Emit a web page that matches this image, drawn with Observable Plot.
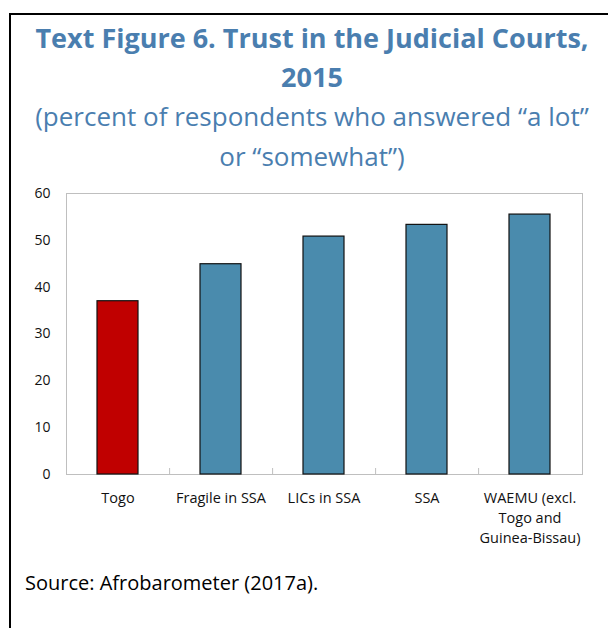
<!DOCTYPE html>
<html>
<head>
<meta charset="utf-8">
<script src="https://cdn.jsdelivr.net/npm/d3@7"></script>
<script src="https://cdn.jsdelivr.net/npm/@observablehq/plot@0.6"></script>
<style>
  html, body { margin: 0; padding: 0; background: #fff; overflow: hidden; width: 608px; height: 628px; }
  body { position: relative; font-family: "Open Sans", sans-serif; }
  .border { position: absolute; left: 9px; top: 13px; width: 1000px; height: 1000px;
            border-top: 2px solid #000; border-left: 2px solid #000; box-sizing: border-box; }
  .title { position: absolute; left: 0; width: 624px; top: 17.5px; text-align: center;
           font: bold 27px/39.5px "Open Sans", sans-serif; color: #4a7eaf; white-space: nowrap; }
  .subtitle { position: absolute; left: 0; width: 624px; top: 95.7px; text-align: center;
              font: 26px/40.5px "Open Sans", sans-serif; color: #4a7eaf; white-space: nowrap; }
  #chart { position: absolute; left: 0; top: 177px; }
  .caption { position: absolute; left: 25px; top: 571px; font: 20px/24px "Open Sans", sans-serif;
             color: #000; white-space: nowrap; }
</style>
</head>
<body>
<div class="border"></div>
<div class="title">Text Figure 6. Trust in the Judicial Courts,<br>2015</div>
<div class="subtitle">(percent of respondents who answered “a lot”<br>or “somewhat”)</div>
<div id="chart"></div>
<div class="caption">Source: Afrobarometer (2017a).</div>
<script>
// ---- data ----
const categories = ["Togo", "Fragile in SSA", "LICs in SSA", "SSA", "WAEMU (excl.\nTogo and\nGuinea-Bissau)"];
const values = [37.0, 44.9, 50.8, 53.3, 55.5];
const yTicks = [0, 10, 20, 30, 40, 50, 60];
const highlight = "Togo";

// ---- styles ----
const RED = "#c00000";
const BLUE = "#4a8bad";
const GRID = "#bfbfbf";

const data = categories.map((c, i) => ({cat: c, value: values[i]}));

const W = 608, H = 372, ML = 66, MR = 26, MT = 16, MB = 75;
const step = (W - ML - MR) / categories.length;
const plotH = H - MT - MB;

const chart = Plot.plot({
  width: W, height: H,
  marginLeft: ML, marginRight: MR, marginTop: MT, marginBottom: MB,
  style: {fontFamily: "Open Sans, sans-serif", fontSize: "14.5px", color: "#111", background: "transparent"},
  x: {domain: categories, paddingInner: 0.6, paddingOuter: 0.3, label: null},
  y: {domain: [0, 60], label: null},
  marks: [
    Plot.frame({stroke: GRID, strokeWidth: 1}),
    Plot.barY(data, {x: "cat", y: "value", fill: d => d.cat === highlight ? RED : BLUE,
                     stroke: "#111", strokeWidth: 1.2}),
    Plot.ruleX(categories.slice(0, categories.length - 1), {dx: step / 2, stroke: GRID, insetTop: plotH - 6}),
    Plot.axisY({ticks: yTicks, tickSize: 0, tickPadding: 16, fontSize: 14, label: null}),
    Plot.axisX({tickSize: 0, tickPadding: 14.5, lineHeight: 1.38, fontSize: 14.5, label: null})
  ]
});
document.getElementById("chart").appendChild(chart);
</script>
</body>
</html>
